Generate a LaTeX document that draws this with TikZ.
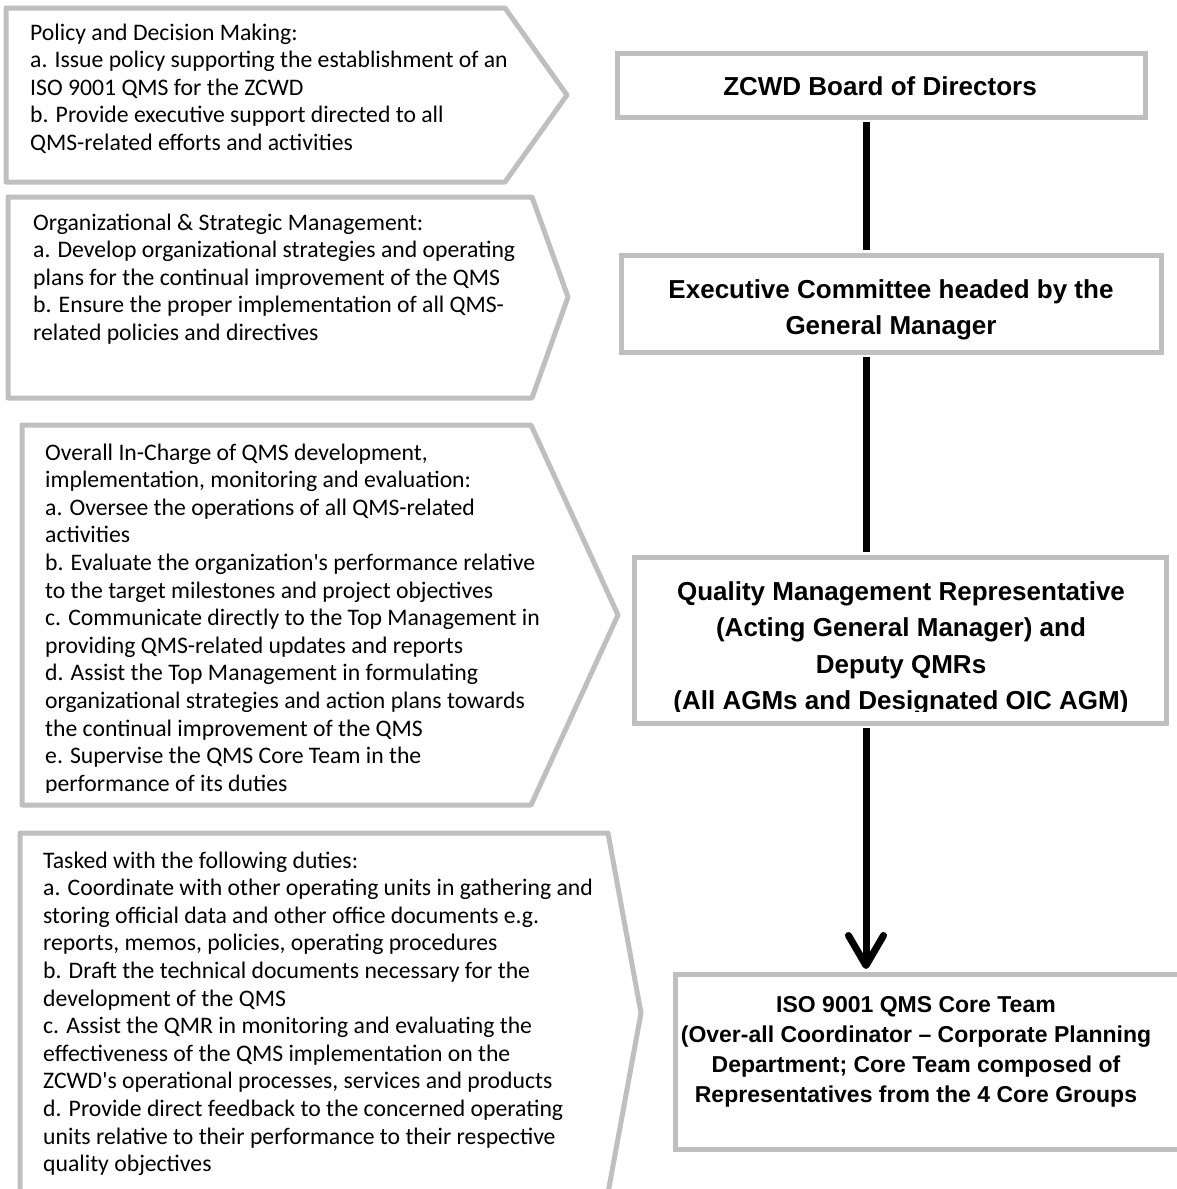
\documentclass[tikz,border=0pt]{standalone}
\usepackage{fontspec}
\newfontfamily\leftfont{Carlito}
\newfontfamily\boxfont{Liberation Sans}
\usetikzlibrary{arrows.meta}
\definecolor{bordgray}{RGB}{191,191,191}
\begin{document}
\begin{tikzpicture}[x=1pt,y=-1pt,
  pent/.style={draw=bordgray,line width=5pt,fill=white,line join=round},
  rbox/.style={draw=bordgray,line width=5pt,fill=white,inner sep=0pt},
  ltext/.style={anchor=base west,inner sep=0pt,align=left,font=\leftfont\fontsize{23.7}{27.6}\selectfont},
  btext/.style={anchor=base,inner sep=0pt,align=center,font=\boxfont\bfseries\fontsize{26}{36.5}\selectfont},
  ctext/.style={anchor=base,inner sep=0pt,align=center,font=\boxfont\bfseries\fontsize{23}{30}\selectfont},
  conn/.style={line width=7pt,black,shorten <=2.5pt,shorten >=2.5pt}]
\useasboundingbox (0,0) rectangle (1177,1189);
\fill[white] (0,0) rectangle (1177,1189);

% left pentagons
\draw[pent] (6,8) -- (505,8) -- (567,95) -- (505,182) -- (6,182) -- cycle;
\draw[pent] (8,197) -- (532,197) -- (568,297) -- (532,398) -- (8,398) -- cycle;
\draw[pent] (22,425) -- (531,425) -- (618,615) -- (531,805) -- (22,805) -- cycle;
\draw[pent] (20,833) -- (608,833) -- (641,1013) -- (608,1193) -- (20,1193) -- cycle;

% (base anchor = baseline of the last line)
\node[ltext] (p1) at (30,150.4) {Policy and Decision Making:\\
a. Issue policy supporting the establishment of an\\
ISO 9001 QMS for the ZCWD\\
b. Provide executive support directed to all\\
QMS-related efforts and activities};

\node[ltext] (p2) at (33,340.4) {Organizational \& Strategic Management:\\
a. Develop organizational strategies and operating\\
plans for the continual improvement of the QMS\\
b. Ensure the proper implementation of all QMS-\\
related policies and directives};

\begin{scope}
\clip (22,425) rectangle (620,792);
\node[ltext] (p3) at (45,791.2) {Overall In-Charge of QMS development,\\
implementation, monitoring and evaluation:\\
a. Oversee the operations of all QMS-related\\
activities\\
b. Evaluate the organization's performance relative\\
to the target milestones and project objectives\\
c. Communicate directly to the Top Management in\\
providing QMS-related updates and reports\\
d. Assist the Top Management in formulating\\
organizational strategies and action plans towards\\
the continual improvement of the QMS\\
e. Supervise the QMS Core Team in the\\
performance of its duties};
\end{scope}

\node[ltext] (p4) at (43,1171.6) {Tasked with the following duties:\\
a. Coordinate with other operating units in gathering and\\
storing official data and other office documents e.g.\\
reports, memos, policies, operating procedures\\
b. Draft the technical documents necessary for the\\
development of the QMS\\
c. Assist the QMR in monitoring and evaluating the\\
effectiveness of the QMS implementation on the\\
ZCWD's operational processes, services and products\\
d. Provide direct feedback to the concerned operating\\
units relative to their performance to their respective\\
quality objectives};

% right boxes
\node[rbox,minimum width=528pt,minimum height=64pt] (b1) at (881,85) {};
\node[rbox,minimum width=540pt,minimum height=97pt] (b2) at (891,303.5) {};
\node[rbox,minimum width=532pt,minimum height=166pt] (b3) at (900,640) {};
\node[rbox,minimum width=515pt,minimum height=175pt] (b4) at (932.5,1061.5) {};

\node[btext] (t1) at (880,95) {ZCWD Board of Directors};
\node[btext] (t2) at (891,334.5) {Executive Committee headed by the\\General Manager};
\begin{scope}
\clip (640,560) rectangle (1160,711);
\node[btext] (t3) at (901,709.5) {Quality Management Representative\\(Acting General Manager) and\\Deputy QMRs\\(All AGMs and Designated OIC AGM)};
\end{scope}
\node[ctext] (t4) at (916,1102) {ISO 9001 QMS Core Team\\(Over-all Coordinator – Corporate Planning\\Department; Core Team composed of\\Representatives from the 4 Core Groups};

% connectors
\coordinate (lx) at (866,0);
\draw[conn] (b1.south -| lx) -- (b2.north -| lx);
\draw[conn] (b2.south -| lx) -- (b3.north -| lx);
\draw[conn,-{Straight Barb[length=30pt,width=35pt,round]}] (b3.south -| lx) -- (b4.north -| lx);
\end{tikzpicture}
\end{document}
